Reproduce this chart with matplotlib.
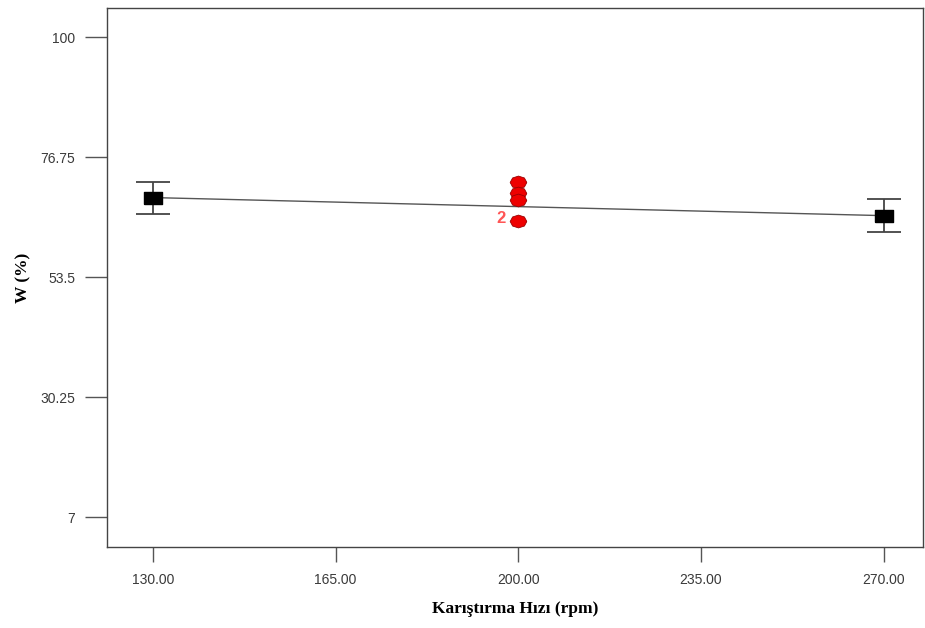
import numpy as np
import matplotlib.pyplot as plt

# factor levels and model prediction
speed = [130, 270]
w_pred = [68.9, 65.4]
w_err = [3.1, 3.2]

# center-point replicates at 200 rpm
obs_x = [200, 200, 200, 200]
obs_y = [72.0, 69.8, 68.4, 64.3]
rep_label = "2"

xticks = [130, 165, 200, 235, 270]
yticks = [7, 30.25, 53.5, 76.75, 100]
ytick_labels = ["7", "30.25", "53.5", "76.75", "100"]

fig = plt.figure(figsize=(9.25, 6.28), dpi=100)
ax = fig.add_axes([0.1157, 0.129, 0.882, 0.858])

ax.plot(speed, w_pred, color='#555555', lw=1, zorder=1)
ax.errorbar(speed, w_pred, yerr=w_err, fmt='none', ecolor='#444444',
            elinewidth=1.3, capsize=12, capthick=1.3, zorder=2)
rect = [(-1.6, -1), (1.6, -1), (1.6, 1), (-1.6, 1), (-1.6, -1)]
ax.plot(speed, w_pred, ls='none', marker=rect, markersize=13,
        color='black', zorder=3)

ellipse = [(np.cos(t) * 1.3, np.sin(t)) for t in np.linspace(0, 2 * np.pi, 9)]
ax.plot(obs_x, obs_y, ls='none', marker=ellipse, markersize=12,
        color='#ee0000', markeredgecolor='#990000', markeredgewidth=0.6, zorder=4)
ax.text(obs_x[-1] - 2.5, obs_y[-1] + 0.5, rep_label, color='#ff5555',
        fontsize=12, fontweight='bold', ha='right', va='center',
        family='Liberation Sans')

ax.set_xlim(121.2, 277.5)
ax.set_ylim(1.2, 105.6)
ax.set_xticks(xticks)
ax.set_xticklabels([f"{v:.2f}" for v in xticks])
ax.set_yticks(yticks)
ax.set_yticklabels(ytick_labels)

for s in ['top', 'right', 'left', 'bottom']:
    ax.spines[s].set_color('#444444')
    ax.spines[s].set_linewidth(1)

ax.tick_params(axis='x', length=11, width=1, color='#555555', pad=8,
               labelsize=10, labelcolor='#3a3a3a')
ax.tick_params(axis='y', length=16, width=1, color='#555555', pad=7,
               labelsize=10, labelcolor='#3a3a3a')
for lab in ax.get_xticklabels() + ax.get_yticklabels():
    lab.set_family('Liberation Sans')

ax.set_xlabel('Karıştırma Hızı (rpm)', family='Liberation Serif',
              fontweight='bold', fontsize=12.5, labelpad=10)
ax.set_ylabel('W (%)', family='Liberation Serif', fontweight='bold',
              fontsize=12.5, labelpad=6)

fig.savefig('out.png', dpi=100)
